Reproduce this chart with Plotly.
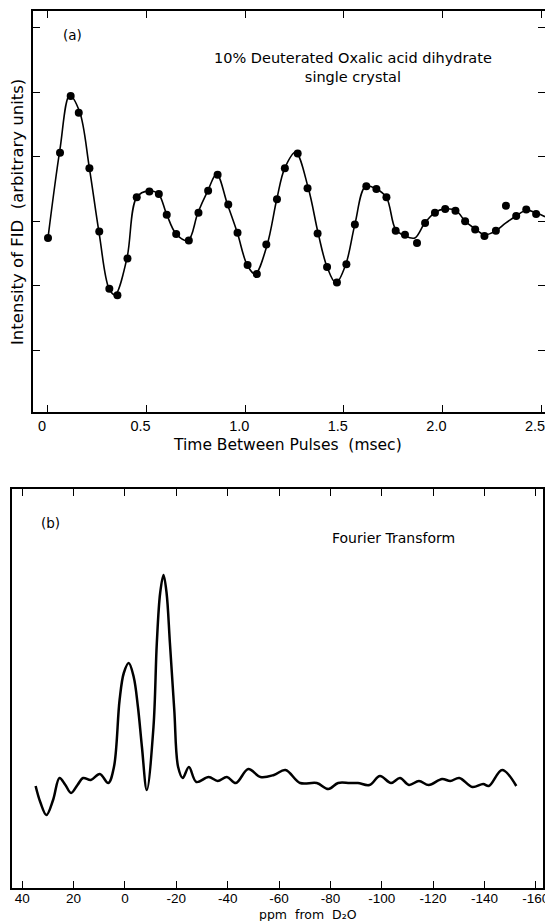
import plotly.graph_objects as go

# page is 553x921; the html body has an 8px margin, so the figure is 545x913
OFF = 8
W, H = 553 - OFF, 921 - OFF

# ---- Panel (a): FID data points ----
fid_time = [0.0, 0.061, 0.115, 0.156, 0.21, 0.26, 0.311, 0.352, 0.403, 0.45,
            0.514, 0.562, 0.602, 0.65, 0.714, 0.763, 0.812, 0.86, 0.914, 0.961,
            1.012, 1.059, 1.107, 1.161, 1.201, 1.266, 1.316, 1.367, 1.415, 1.465,
            1.513, 1.556, 1.614, 1.665, 1.716, 1.763, 1.81, 1.871, 1.912, 1.962,
            2.014, 2.066, 2.115, 2.166, 2.213, 2.271, 2.322, 2.374, 2.425, 2.475]
fid_intensity = [2.74, 4.06, 4.94, 4.68, 3.82, 2.84, 1.95, 1.85, 2.42, 3.37,
                 3.46, 3.42, 3.10, 2.80, 2.70, 3.13, 3.47, 3.72, 3.26, 2.82,
                 2.32, 2.18, 2.64, 3.34, 3.82, 4.05, 3.51, 2.81, 2.29, 2.05,
                 2.33, 2.95, 3.54, 3.50, 3.37, 2.85, 2.79, 2.66, 2.97, 3.13,
                 3.19, 3.16, 3.00, 2.87, 2.77, 2.85, 3.24, 3.08, 3.18, 3.11]

# ---- Panel (a): fitted smooth curve ----
fit_time = [0.0, 0.06, 0.11, 0.16, 0.21, 0.26, 0.31, 0.34, 0.40, 0.45,
            0.51, 0.56, 0.60, 0.65, 0.71, 0.76, 0.81, 0.855, 0.91, 0.96,
            1.01, 1.05, 1.11, 1.16, 1.20, 1.255, 1.32, 1.37, 1.415, 1.46,
            1.51, 1.556, 1.61, 1.665, 1.716, 1.763, 1.81, 1.86, 1.91, 1.96,
            2.01, 2.07, 2.115, 2.166, 2.215, 2.27, 2.32, 2.374, 2.425, 2.475, 2.52]
fit_intensity = [2.74, 4.10, 4.95, 4.70, 3.82, 2.80, 1.95, 1.86, 2.42, 3.37,
                 3.47, 3.42, 3.12, 2.80, 2.70, 3.13, 3.47, 3.73, 3.26, 2.82,
                 2.32, 2.18, 2.62, 3.34, 3.82, 4.07, 3.51, 2.81, 2.29, 2.04,
                 2.33, 2.95, 3.54, 3.50, 3.37, 2.87, 2.77, 2.74, 2.97, 3.13,
                 3.19, 3.16, 3.00, 2.88, 2.79, 2.85, 2.97, 3.08, 3.17, 3.13, 3.07]

x_a_ticks = [0, 0.5, 1.0, 1.5, 2.0, 2.5]
x_a_labels = ["0", "0.5", "1.0", "1.5", "2.0", "2.5"]
y_a_ticks = [1, 2, 3, 4, 5, 6]

# ---- Panel (b): Fourier transform spectrum ----
ft_ppm = [34.8, 33.0, 30.6, 28.0, 25.5, 23.2, 21.0, 18.5, 16.3, 13.3,
          9.8, 6.5, 4.3, 2.1, 0.46, -1.46, -3.4, -5.05, -6.6, -8.5,
          -11.1, -12.4, -13.7, -15.0, -16.2, -17.5, -19.2, -20.7, -22.5, -24.9,
          -27.8, -32.6, -36.1, -39.7, -43.2, -48.0, -52.8, -58.0, -62.5, -68.2,
          -74.7, -79.2, -83.0, -87.5, -90.7, -95.2, -99.3, -103.6, -107.1, -110.6,
          -114.5, -118.3, -123.5, -126.7, -130.2, -135.3, -139.5, -141.7, -146.9, -152.4]
ft_amp = [1.02, 0.86, 0.73, 0.88, 1.10, 1.03, 0.95, 1.03, 1.10, 1.08,
          1.14, 1.05, 1.21, 1.88, 2.15, 2.25, 2.11, 1.81, 1.41, 0.98,
          1.61, 2.45, 2.95, 3.13, 2.95, 2.45, 1.78, 1.21, 1.10, 1.21,
          1.06, 1.11, 1.07, 1.11, 1.05, 1.19, 1.11, 1.13, 1.18, 1.05,
          1.05, 0.99, 1.05, 1.05, 1.05, 1.03, 1.12, 1.05, 1.10, 1.03,
          1.07, 1.03, 1.09, 1.07, 1.10, 1.01, 1.04, 1.02, 1.18, 1.02]

x_b_ticks = [40, 20, 0, -20, -40, -60, -80, -100, -120, -140, -160]
x_b_labels = [str(v) for v in x_b_ticks]

FONT = "DejaVu Sans"
TICKFONT = "Liberation Sans"

fig = go.Figure()
fig.add_trace(go.Scatter(x=fit_time, y=fit_intensity, mode="lines",
                         line=dict(color="black", width=1.6, shape="spline", smoothing=1.0),
                         xaxis="x", yaxis="y", showlegend=False, hoverinfo="skip"))
fig.add_trace(go.Scatter(x=fid_time, y=fid_intensity, mode="markers",
                         marker=dict(color="black", size=8),
                         xaxis="x", yaxis="y", showlegend=False))
fig.add_trace(go.Scatter(x=ft_ppm, y=ft_amp, mode="lines",
                         line=dict(color="black", width=2.5, shape="spline", smoothing=1.0),
                         xaxis="x2", yaxis="y2", showlegend=False))


def px(v):
    return (v - OFF) / W


def py(v):
    return 1 - (v - OFF) / H


axis_common = dict(showline=True, linecolor="black", linewidth=1.5, mirror="ticks",
                   ticks="inside", ticklen=7, tickwidth=1.2, tickcolor="black",
                   showgrid=False, zeroline=False, automargin=False)

fig.update_layout(
    width=W, height=H, margin=dict(l=0, r=0, t=0, b=0),
    paper_bgcolor="white", plot_bgcolor="white",
    xaxis=dict(domain=[px(33), px(545)], range=[-0.076, 2.52], anchor="y",
               tickvals=x_a_ticks, ticktext=x_a_labels, ticklabelshift=-6,
               tickfont=dict(family=TICKFONT, size=14.5, color="black"),
               **axis_common),
    yaxis=dict(domain=[py(412), py(11)], range=[0.04, 6.26], anchor="x",
               tickvals=y_a_ticks, showticklabels=False, **axis_common),
    xaxis2=dict(domain=[px(12), px(543)], range=[44.0, -162.8], anchor="y2",
                tickvals=x_b_ticks, ticktext=x_b_labels, ticklabelstandoff=-3,
                tickfont=dict(family=TICKFONT, size=13.5, color="black"),
                **axis_common),
    yaxis2=dict(domain=[py(888), py(489)], range=[0, 3.99], anchor="x2",
                showline=True, linecolor="black", linewidth=1.5, mirror=True,
                ticks="", showticklabels=False, showgrid=False, zeroline=False,
                automargin=False),
)

ann_font = dict(family=FONT, size=13.5, color="black")
annotations = [
    dict(text="(a)", x=px(72), y=py(35), font=ann_font),
    dict(text="10% Deuterated Oxalic acid dihydrate<br>single crystal",
         x=px(353), y=py(67), font=dict(family=FONT, size=14.5, color="black")),
    dict(text="Time Between Pulses  (msec)", x=px(287), y=py(445),
         font=dict(family=FONT, size=15.5, color="black")),
    dict(text="Intensity of FID  (arbitrary units)", x=px(17), y=py(212), textangle=-90,
         font=dict(family=FONT, size=16.5, color="black")),
    dict(text="(b)", x=px(50), y=py(523), font=ann_font),
    dict(text="Fourier Transform", x=px(393), y=py(538),
         font=dict(family=FONT, size=14, color="black")),
    dict(text="ppm  from  D\u2082O", x=px(308), y=py(914),
         font=dict(family=FONT, size=12.5, color="black")),
]
for a in annotations:
    a.update(xref="paper", yref="paper", showarrow=False, xanchor="center", yanchor="middle")
fig.update_layout(annotations=annotations)

fig.write_html("out.html")
